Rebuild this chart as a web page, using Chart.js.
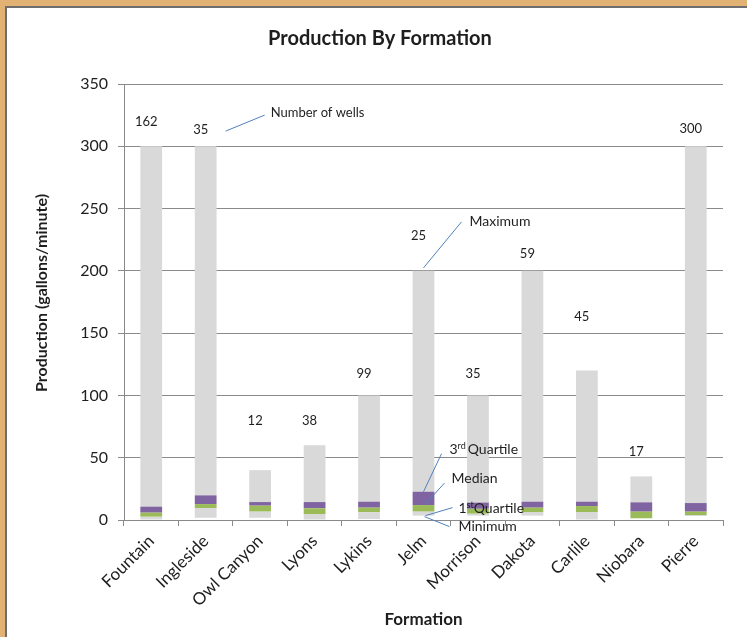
<!DOCTYPE html>
<html lang="en">
<head>
<meta charset="UTF-8">
<meta name="viewport" content="width=device-width, initial-scale=1.0">
<title>Production By Formation</title>
<script src="https://cdn.jsdelivr.net/npm/chart.js@4.4.1/dist/chart.umd.min.js"></script>
<style>
    html, body {
        margin: 0;
        padding: 0;
        background: #fff;
    }
    body {
        width: 747px;
        height: 637px;
        position: relative;
        overflow: hidden;
        font-family: Lato, 'Open Sans', sans-serif;
    }
    /* wooden frame on the top and left edge */
    .frame-top { position: absolute; left: 0; top: 0; width: 747px; height: 6px; background: #e1b274; }
    .frame-left { position: absolute; left: 0; top: 0; width: 5px; height: 637px; background: #e1b274; }
    .shade-top { position: absolute; left: 5px; top: 6px; width: 742px; height: 2px; background: #6e6e6e; }
    .shade-left { position: absolute; left: 5px; top: 6px; width: 2px; height: 631px; background: #6e6e6e; }
    .chart-box { position: absolute; left: 0; top: 0; width: 747px; height: 637px; }
</style>
</head>
<body>
    <div class="frame-top"></div>
    <div class="frame-left"></div>
    <div class="shade-top"></div>
    <div class="shade-left"></div>
    <div class="chart-box">
        <canvas id="formationChart" width="747" height="637"></canvas>
    </div>

<script>
    // Production statistics per formation (gallons/minute)
    const formations = ['Fountain', 'Ingleside', 'Owl Canyon', 'Lyons', 'Lykins', 'Jelm',
                        'Morrison', 'Dakota', 'Carlile', 'Niobara', 'Pierre'];
    const minimum   = [0,    1.8,  1.8,  0,    0.8,  3.5,  3.5, 3.5,  0,    1.4,  3.2];
    const quartile1 = [2.6,  9.6,  6.7,  4.8,  6.2,  6.7,  5,   6.4,  6.4,  1.4,  4];
    const median    = [5.9,  12.8, 11.5, 9.4,  9.9,  12,   9,   9.9,  11.2, 6.7,  6.7];
    const quartile3 = [10.7, 19.8, 14.4, 14.4, 14.7, 22.7, 14,  14.7, 14.7, 14.2, 13.6];
    const maximum   = [300,  300,  40,   60,   100,  200,  100, 200,  120,  35,   300];

    // number of wells, and the production level its label sits at
    const wellCount   = [162, 35, 12, 38, 99, 25, 35, 59, 45, 17, 300];
    const wellLabelAt = [320, 313, 80, 80, 117, 228, 117, 214, 163, 55, 314];

    const yTicks = [0, 50, 100, 150, 200, 250, 300, 350];

    const GRAY = '#d9d9d9';
    const GREEN = '#9bbb59';
    const PURPLE = '#8064a2';
    const CALLOUT = '#4f81bd';
    const FONT = "Lato, 'Open Sans', sans-serif";
    const TEXT = '#1e1e1e';

    function span(lo, hi) {
        return formations.map((_, i) => [lo[i], hi[i]]);
    }

    const barStyle = {
        grouped: false,
        barPercentage: 0.4,
        categoryPercentage: 1,
        borderWidth: 0
    };

    // titles, well counts and the key callouts on the Jelm bar
    const annotations = {
        id: 'annotations',
        afterDraw(chart) {
            const ctx = chart.ctx;
            const x = chart.scales.x;
            const y = chart.scales.y;
            const area = chart.chartArea;

            ctx.save();
            ctx.fillStyle = TEXT;
            ctx.textBaseline = 'middle';

            // chart title
            ctx.textAlign = 'center';
            ctx.font = `bold 20px ${FONT}`;
            ctx.fillText('Production By Formation', 380, 39);

            // axis titles
            ctx.font = `bold 17px ${FONT}`;
            ctx.fillText('Formation', (area.left + area.right) / 2, 620);
            ctx.save();
            ctx.translate(42, (area.top + area.bottom) / 2 - 9);
            ctx.rotate(-Math.PI / 2);
            ctx.font = `bold 16px ${FONT}`;
            ctx.fillText('Production (gallons/minute)', 0, 0);
            ctx.restore();

            // well counts
            ctx.font = `13px ${FONT}`;
            wellCount.forEach((n, i) => {
                ctx.fillText(String(n), x.getPixelForValue(i) - 5, y.getPixelForValue(wellLabelAt[i]));
            });

            // callout lines
            ctx.strokeStyle = CALLOUT;
            ctx.lineWidth = 1;
            function line(x0, y0, x1, y1) {
                ctx.beginPath();
                ctx.moveTo(x0, y0);
                ctx.lineTo(x1, y1);
                ctx.stroke();
            }

            ctx.textAlign = 'left';
            ctx.font = `13px ${FONT}`;
            const ix = x.getPixelForValue(1) - 5;
            const iy = y.getPixelForValue(wellLabelAt[1]);
            line(ix + 25, iy + 1, ix + 64, iy - 15);
            ctx.fillText('Number of wells', ix + 70, iy - 17);

            const j = formations.indexOf('Jelm');
            const jx = x.getPixelForValue(j);
            ctx.font = `14px ${FONT}`;

            const yMax = y.getPixelForValue(maximum[j]);
            line(jx, yMax - 3, jx + 38, yMax - 49);
            ctx.fillText('Maximum', jx + 46, yMax - 49);

            const yQ3 = y.getPixelForValue(quartile3[j]);
            line(jx, yQ3, jx + 18, yQ3 - 38);
            let tx = jx + 26;
            const ty = yQ3 - 42;
            ctx.fillText('3', tx, ty);
            tx += ctx.measureText('3').width;
            ctx.font = `9px ${FONT}`;
            ctx.fillText('rd', tx, ty - 4);
            tx += ctx.measureText('rd').width + 2;
            ctx.font = `14px ${FONT}`;
            ctx.fillText('Quartile', tx, ty);

            const yMed = y.getPixelForValue(median[j]);
            line(jx + 1, yMed, jx + 21, yMed - 22);
            ctx.fillText('Median', jx + 28, yMed - 27);

            const yQ1 = y.getPixelForValue(quartile1[j]);
            line(jx + 2, yQ1 + 4, jx + 29, yQ1 - 4);
            tx = jx + 35;
            const q1y = yQ1 - 3;
            ctx.fillText('1', tx, q1y);
            tx += ctx.measureText('1').width;
            ctx.font = `9px ${FONT}`;
            ctx.fillText('st', tx, q1y - 4);
            tx += ctx.measureText('st').width;
            ctx.font = `14px ${FONT}`;
            ctx.fillText('Quartile', tx, q1y);

            const yMin = y.getPixelForValue(minimum[j]);
            line(jx + 1, yMin + 1, jx + 26, yMin + 11);
            ctx.fillText('Minimum', jx + 35, yMin + 11);

            ctx.restore();
        }
    };

    const chart = new Chart(document.getElementById('formationChart'), {
        type: 'bar',
        data: {
            labels: formations,
            datasets: [
                { label: 'Minimum to 1st Quartile', data: span(minimum, quartile1), backgroundColor: GRAY, ...barStyle },
                { label: '1st Quartile to Median', data: span(quartile1, median), backgroundColor: GREEN, ...barStyle },
                { label: 'Median to 3rd Quartile', data: span(median, quartile3), backgroundColor: PURPLE, ...barStyle },
                { label: '3rd Quartile to Maximum', data: span(quartile3, maximum), backgroundColor: GRAY, ...barStyle }
            ]
        },
        options: {
            responsive: false,
            animation: false,
            layout: {
                padding: { left: 0, right: 24, top: 84, bottom: 0 }
            },
            plugins: {
                legend: { display: false },
                title: { display: false },
                tooltip: { enabled: false }
            },
            scales: {
                x: {
                    afterFit(scale) { scale.height = 117; },
                    grid: {
                        offset: true,
                        drawOnChartArea: false,
                        drawTicks: true,
                        tickLength: 6,
                        color: '#8a8a8a'
                    },
                    border: { color: '#8a8a8a', width: 1 },
                    ticks: {
                        minRotation: 45,
                        maxRotation: 45,
                        autoSkip: false,
                        color: TEXT,
                        padding: 5,
                        font: { family: FONT, size: 17 }
                    }
                },
                y: {
                    min: 0,
                    max: 350,
                    afterFit(scale) { scale.width = 124; },
                    afterBuildTicks(scale) {
                        scale.ticks = yTicks.map(v => ({ value: v }));
                    },
                    grid: {
                        color: '#8a8a8a',
                        tickLength: 6,
                        drawTicks: true
                    },
                    border: { color: '#8a8a8a', width: 1 },
                    ticks: {
                        color: TEXT,
                        padding: 10,
                        font: { family: FONT, size: 16 }
                    }
                }
            }
        },
        plugins: [annotations]
    });
</script>
</body>
</html>
